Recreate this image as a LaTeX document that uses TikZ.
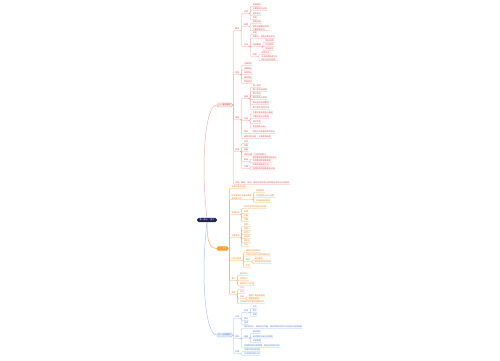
\documentclass[tikz,border=0pt]{standalone}
\usepackage{fontspec}
\newfontfamily\cjk{Noto Sans CJK SC}
\definecolor{rootblue}{HTML}{1F2352}
\definecolor{redline}{HTML}{EE9A9A}
\definecolor{redtext}{HTML}{D04A4A}
\definecolor{redfill}{HTML}{FDE4E4}
\definecolor{redtrunk}{HTML}{E8B4B4}
\definecolor{orangeline}{HTML}{F3B06A}
\definecolor{orangetext}{HTML}{D9822B}
\definecolor{orangefill}{HTML}{F39A2E}
\definecolor{blueline}{HTML}{9DBCE8}
\definecolor{bluetext}{HTML}{4A7BD0}
\definecolor{bluefill}{HTML}{DDE9FB}
\definecolor{bluetrunk}{HTML}{A9C4EC}
\tikzset{
  cjktext/.style={font=\cjk\fontsize{2}{2.6}\selectfont},
  rootnode/.style={cjktext, fill=rootblue, text=white, rounded corners=1.5pt, inner xsep=2.5pt, inner ysep=1.1pt},
  rmain/.style={cjktext, fill=redfill, draw=redline, line width=0.3pt, text=redtext, rounded corners=1pt, inner xsep=1.5pt, inner ysep=1pt, anchor=west},
  omain/.style={cjktext, fill=orangefill, text=white, rounded corners=1pt, inner xsep=1.5pt, inner ysep=1.1pt, anchor=west},
  bmain/.style={cjktext, fill=bluefill, draw=blueline, line width=0.3pt, text=bluetext, rounded corners=1pt, inner xsep=1.5pt, inner ysep=1pt, anchor=west},
  rleaf/.style={cjktext, text=redtext, anchor=west, inner sep=0.4pt, align=left},
  oleaf/.style={cjktext, text=orangetext, anchor=west, inner sep=0.4pt, align=left},
  bleaf/.style={cjktext, text=bluetext, anchor=west, inner sep=0.4pt, align=left},
  rline/.style={draw=redline, line width=0.3pt, rounded corners=0.8pt},
  oline/.style={draw=orangeline, line width=0.3pt, rounded corners=0.8pt},
  bline/.style={draw=blueline, line width=0.3pt, rounded corners=0.8pt},
  rtrunk/.style={draw=redtrunk, line width=0.5pt},
  otrunk/.style={draw=orangeline, line width=0.5pt},
  btrunk/.style={draw=bluetrunk, line width=0.5pt}
}
\begin{document}
\begin{tikzpicture}[x=1pt,y=-1pt]
\useasboundingbox (0,0) rectangle (500,360);
% centre topic and the three main branches
\node[rootnode] (gen) at (207,220) {第一单元 · 复习};
\node[rmain] (hong) at (217,105) {一、基本概念};
\node[omain] (cheng) at (217,248.5) {二、发展};
\node[bmain] (lan) at (217,335) {三、分布保护};
\draw[rtrunk] (gen.north) .. controls (201,170) and (204,105) .. (hong.west);
\draw[otrunk] (gen.south) .. controls (207,240) and (209,248.5) .. (cheng.west);
\draw[btrunk] (gen.south) .. controls (201,270) and (204,335) .. (lan.west);

% ---------- branch one ----------
\coordinate (hongK) at ([xshift=2.5pt]hong.east);
\node[rleaf] (r1) at (hongK |- 0,29) {概念};
\node[rleaf] (r2) at (hongK |- 0,73) {特征};
\node[rleaf] (r3) at (hongK |- 0,118) {结构};
\node[rleaf] (r4) at (hongK |- 0,150) {应用};
\node[rleaf] (r5) at (hongK |- 0,183) {总结：概念、特征、结构以及应用之间的相互关系与内在联系};
\foreach \n in {r1,r2,r3,r4,r5}
  \draw[rline] (hong.east) -- ++(1.2,0) |- (\n.south west) -- (\n.south east);

% under r1
\coordinate (r1K) at ([xshift=3.5pt]r1.east);
\node[rleaf] (r1a) at (r1K |- 0,12) {分类};
\node[rleaf] (r1b) at (r1K |- 0,25) {原理};
\node[rleaf] (r1c) at (r1K |- 0,45) {方法};
\foreach \n in {r1a,r1b,r1c}
  \draw[rline] (r1.south east) -- ++(1.5,0) |- (\n.south west) -- (\n.south east);
\coordinate (r1aK) at ([xshift=3.5pt]r1a.east);
\foreach \y/\t [count=\i] in {5/组成部分, 9/主要特点与分类, 14/基本意义, 18/作用}{
  \node[rleaf] (r1a\i) at (r1aK |- 0,\y) {\t};
  \draw[rline] (r1a.south east) -- ++(1.5,0) |- (r1a\i.south west) -- (r1a\i.south east);
}
\coordinate (r1bK) at ([xshift=3.5pt]r1b.east);
\node[rleaf] (r1b1) at (r1bK |- 0,22) {结构组成};
\node[rleaf] (r1b2) at (r1bK |- 0,28) {相关内容概述及其\\主要表现形式};
\foreach \n in {r1b1,r1b2}
  \draw[rline] (r1b.south east) -- ++(1.5,0) |- (\n.south west) -- (\n.south east);
\coordinate (r1cK) at ([xshift=3.5pt]r1c.east);
\node[rleaf] (r1c1) at (r1cK |- 0,33) {实验};
\node[rleaf] (r1c2) at (r1cK |- 0,37) {观察法 – 调查法和比较法};
\node[rleaf] (r1c3) at (r1cK |- 0,45) {归纳推理};
\node[rleaf] (r1c4) at (r1cK |- 0,55) {其他};
\foreach \n in {r1c1,r1c2,r1c3,r1c4}
  \draw[rline] (r1c.south east) -- ++(1.5,0) |- (\n.south west) -- (\n.south east);
\coordinate (r1c3K) at ([xshift=3.5pt]r1c3.east);
\foreach \y/\t [count=\i] in {41/提出问题, 45/作出假设, 49/得出结论}{
  \node[rleaf] (r1c3\i) at (r1c3K |- 0,\y) {\t};
  \draw[rline] (r1c3.south east) -- ++(1.5,0) |- (r1c3\i.south west) -- (r1c3\i.south east);
}
\coordinate (r1c4K) at ([xshift=3.5pt]r1c4.east);
\node[rleaf] (r1c41) at (r1c4K |- 0,53) {相关方法};
\node[rleaf] (r1c42) at (r1c4K |- 0,58) {综合运用各种方法\\进行分析与研究};
\foreach \n in {r1c41,r1c42}
  \draw[rline] (r1c4.south east) -- ++(1.5,0) |- (\n.south west) -- (\n.south east);

% under r2
\coordinate (r2K) at ([xshift=3.5pt]r2.east);
\foreach \y/\t [count=\i] in {64/主要特征, 68.5/次要特征, 73/共同特征, 77.5/独特特征, 82/其他特征}{
  \node[rleaf] (r2\i) at (r2K |- 0,\y) {\t};
  \draw[rline] (r2.south east) -- ++(1.5,0) |- (r2\i.south west) -- (r2\i.south east);
}

% under r3
\coordinate (r3K) at ([xshift=3.5pt]r3.east);
\node[rleaf] (r3a) at (r3K |- 0,97) {组成};
\node[rleaf] (r3b) at (r3K |- 0,119) {功能};
\node[rleaf] (r3c) at (r3K |- 0,132) {联系};
\node[rleaf] (r3d) at (r3K |- 0,137) {结构决定功能 · 功能依赖结构};
\foreach \n in {r3a,r3b,r3c,r3d}
  \draw[rline] (r3.south east) -- ++(1.5,0) |- (\n.south west) -- (\n.south east);
\coordinate (r3aK) at ([xshift=3.5pt]r3a.east);
\foreach \y/\t [count=\i] in {86/第一层次, 90/第二层次及说明, 94/第三层次, 98/第四层次与说明, 103/第五层次总结概括, 108/第六层次 相互关系}{
  \node[rleaf] (r3a\i) at (r3aK |- 0,\y) {\t};
  \draw[rline] (r3a.south east) -- ++(1.5,0) |- (r3a\i.south west) -- (r3a\i.south east);
}
\coordinate (r3bK) at ([xshift=3.5pt]r3b.east);
\foreach \y/\t [count=\i] in {112.5/主要功能及其意义概述, 117/次要功能补充说明, 122/调节作用, 126.5/相互联系与统一}{
  \node[rleaf] (r3b\i) at (r3bK |- 0,\y) {\t};
  \draw[rline] (r3b.south east) -- ++(1.5,0) |- (r3b\i.south west) -- (r3b\i.south east);
}
\coordinate (r3cK) at ([xshift=3.5pt]r3c.east);
\node[rleaf] (r3c1) at (r3cK |- 0,132) {结构与功能相适应的观点};
\draw[rline] (r3c.south east) -- (r3c1.south west) -- (r3c1.south east);

% under r4
\coordinate (r4K) at ([xshift=3.5pt]r4.east);
\node[rleaf] (r41) at (r4K |- 0,142) {实例};
\node[rleaf] (r42) at (r4K |- 0,146) {举例};
\node[rleaf] (r43) at (r4K |- 0,150) {拓展};
\node[rleaf] (r44) at (r4K |- 0,154.5) {实际应用 – 生活中的例子};
\node[rleaf] (r4e) at (r4K |- 0,160) {影响};
\node[rleaf] (r4f) at (r4K |- 0,167) {对策};
\foreach \n in {r41,r42,r43,r44,r4e,r4f}
  \draw[rline] (r4.south east) -- ++(1.5,0) |- (\n.south west) -- (\n.south east);
\coordinate (r4eK) at ([xshift=3.5pt]r4e.east);
\foreach \y/\t [count=\i] in {157.5/有利影响的具体表现及意义, 161/不利影响的具体表现}{
  \node[rleaf] (r4e\i) at (r4eK |- 0,\y) {\t};
  \draw[rline] (r4e.south east) -- ++(1.5,0) |- (r4e\i.south west) -- (r4e\i.south east);
}
\coordinate (r4fK) at ([xshift=3.5pt]r4f.east);
\foreach \y/\t [count=\i] in {165/采取的措施及方法, 168.5/合理利用资源和保护环境}{
  \node[rleaf] (r4f\i) at (r4fK |- 0,\y) {\t};
  \draw[rline] (r4f.south east) -- ++(1.5,0) |- (r4f\i.south west) -- (r4f\i.south east);
}

% ---------- branch two ----------
\coordinate (chengK) at ([xshift=2.5pt]cheng.east);
\node[oleaf] (o1) at (chengK |- 0,187) {发展的基本历程};
\node[oleaf] (o2) at (chengK |- 0,197) {影响发展的主要因素及\\其相互作用};
\node[oleaf] (o3) at (chengK |- 0,213) {发展阶段};
\node[oleaf] (o4) at (chengK |- 0,236) {主要类型};
\node[oleaf] (o5) at (chengK |- 0,259) {比较与联系};
\node[oleaf] (o6) at (chengK |- 0,279) {意义};
\node[oleaf] (o7) at (chengK |- 0,293) {趋势};
\foreach \n in {o1,o2,o3,o4,o5,o6,o7}
  \draw[oline] (cheng.east) -- ++(1.2,0) |- (\n.south west) -- (\n.south east);
\coordinate (o2K) at ([xshift=3.5pt]o2.east);
\foreach \y/\t [count=\i] in {191/内部因素, 196/外部因素分析与说明, 201/环境因素的影响}{
  \node[oleaf] (o2\i) at (o2K |- 0,\y) {\t};
  \draw[oline] (o2.south east) -- ++(1.5,0) |- (o2\i.south west) -- (o2\i.south east);
}
\coordinate (o3K) at ([xshift=3.5pt]o3.east);
\foreach \y/\t [count=\i] in {207/各阶段的特点及划分依据, 212/初期, 216/中期, 220/后期}{
  \node[oleaf] (o3\i) at (o3K |- 0,\y) {\t};
  \draw[oline] (o3.south east) -- ++(1.5,0) |- (o3\i.south west) -- (o3\i.south east);
}
\coordinate (o4K) at ([xshift=3.5pt]o4.east);
\foreach \y/\t [count=\i] in {225/类型一, 229/类型二, 233/类型三, 237/类型四, 241/类型五, 245/其他}{
  \node[oleaf] (o4\i) at (o4K |- 0,\y) {\t};
  \draw[oline] (o4.south east) -- ++(1.5,0) |- (o4\i.south west) -- (o4\i.south east);
}
\coordinate (o5K) at ([xshift=3.5pt]o5.east);
\node[oleaf] (o51) at (o5K |- 0,251) {相同点及其表现};
\node[oleaf] (o52) at (o5K |- 0,254.5) {不同点及其产生的原因分析};
\node[oleaf] (o5c) at (o5K |- 0,260) {联系};
\node[oleaf] (o54) at (o5K |- 0,266) {区别};
\foreach \n in {o51,o52,o5c,o54}
  \draw[oline] (o5.south east) -- ++(1.5,0) |- (\n.south west) -- (\n.south east);
\coordinate (o5cK) at ([xshift=3.5pt]o5c.east);
\foreach \y/\t [count=\i] in {258.5/相互影响, 262/相互促进共同发展}{
  \node[oleaf] (o5c\i) at (o5cK |- 0,\y) {\t};
  \draw[oline] (o5c.south east) -- ++(1.5,0) |- (o5c\i.south west) -- (o5c\i.south east);
}
\coordinate (o6K) at ([xshift=3.5pt]o6.east);
\foreach \y/\t [count=\i] in {274/理论意义, 279/实践意义, 284/现实意义与价值}{
  \node[oleaf] (o6\i) at (o6K |- 0,\y) {\t};
  \draw[oline] (o6.south east) -- ++(1.5,0) |- (o6\i.south west) -- (o6\i.south east);
}
\coordinate (o7K) at ([xshift=3.5pt]o7.east);
\node[oleaf] (o71) at (o7K |- 0,288) {方向};
\node[oleaf] (o72) at (o7K |- 0,292) {特点};
\node[oleaf] (o7c) at (o7K |- 0,297) {未来};
\node[oleaf] (o74) at (o7K |- 0,302) {总体趋势及其影响因素分析};
\foreach \n in {o71,o72,o7c,o74}
  \draw[oline] (o7.south east) -- ++(1.5,0) |- (\n.south west) -- (\n.south east);
\coordinate (o7cK) at ([xshift=3.5pt]o7c.east);
\foreach \y/\t [count=\i] in {295.5/前景广阔持续发展, 298.5/面临的挑战}{
  \node[oleaf] (o7c\i) at (o7cK |- 0,\y) {\t};
  \draw[oline] (o7c.south east) -- ++(1.5,0) |- (o7c\i.south west) -- (o7c\i.south east);
}

% ---------- branch three ----------
\coordinate (lanK) at ([xshift=2.5pt]lan.east);
\node[bleaf] (b1) at (lanK |- 0,317) {分布};
\node[bleaf] (b2) at (lanK |- 0,337) {保护};
\node[bleaf] (b3) at (lanK |- 0,352) {利用};
\foreach \n in {b1,b2,b3}
  \draw[bline] (lan.east) -- ++(1.2,0) |- (\n.south west) -- (\n.south east);
\coordinate (b1K) at ([xshift=3.5pt]b1.east);
\node[bleaf] (b1a) at (b1K |- 0,311) {区域};
\node[bleaf] (b12) at (b1K |- 0,319) {特点};
\node[bleaf] (b13) at (b1K |- 0,323) {规律};
\foreach \n in {b1a,b12,b13}
  \draw[bline] (b1.south east) -- ++(1.5,0) |- (\n.south west) -- (\n.south east);
\coordinate (b1aK) at ([xshift=3.5pt]b1a.east);
\foreach \y/\t [count=\i] in {307/北方, 311/南方, 315/西部}{
  \node[bleaf] (b1a\i) at (b1aK |- 0,\y) {\t};
  \draw[bline] (b1a.south east) -- ++(1.5,0) |- (b1a\i.south west) -- (b1a\i.south east);
}
\coordinate (b2K) at ([xshift=3.5pt]b2.east);
\node[bleaf] (b21) at (b2K |- 0,327) {保护的意义 – 维持生态平衡、保护物种多样性以及实现可持续发展};
\node[bleaf] (b2b) at (b2K |- 0,336.5) {措施};
\node[bleaf] (b23) at (b2K |- 0,346) {加强教育和法制管理 – 提高全民保护意识};
\foreach \n in {b21,b2b,b23}
  \draw[bline] (b2.south east) -- ++(1.5,0) |- (\n.south west) -- (\n.south east);
\coordinate (b2bK) at ([xshift=3.5pt]b2b.east);
\foreach \y/\t [count=\i] in {332/就地保护, 336.5/易地保护及建立种质库, 341/法制管理}{
  \node[bleaf] (b2b\i) at (b2bK |- 0,\y) {\t};
  \draw[bline] (b2b.south east) -- ++(1.5,0) |- (b2b\i.south west) -- (b2b\i.south east);
}
\coordinate (b3K) at ([xshift=3.5pt]b3.east);
\foreach \y/\t [count=\i] in {350/合理开发利用资源, 354/可持续利用的方式}{
  \node[bleaf] (b3\i) at (b3K |- 0,\y) {\t};
  \draw[bline] (b3.south east) -- ++(1.5,0) |- (b3\i.south west) -- (b3\i.south east);
}
\end{tikzpicture}
\end{document}
